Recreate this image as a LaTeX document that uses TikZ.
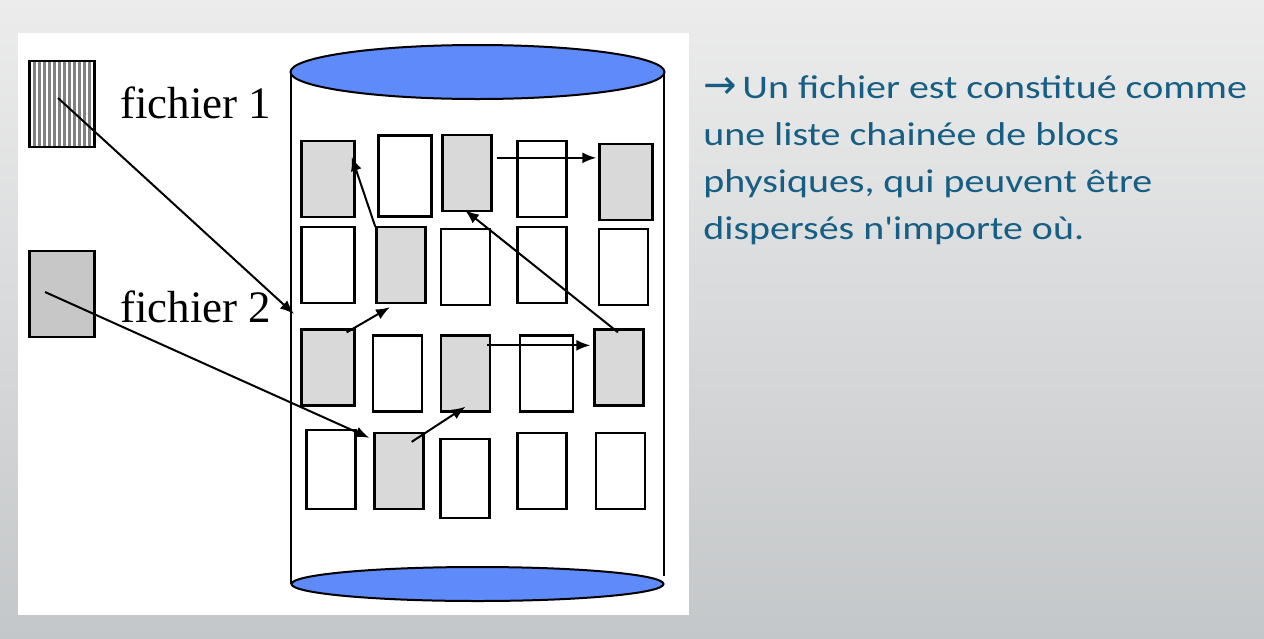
\documentclass[tikz,border=0pt]{standalone}
\usepackage{fontspec}
\setmainfont{Liberation Serif}
\newfontfamily\slidefont[FakeStretch=1.21]{Carlito}
\newfontfamily\symbfont{DejaVu Sans}
\usetikzlibrary{arrows.meta, positioning, calc}
\definecolor{slideblue}{RGB}{22,94,131}
\definecolor{diskblue}{RGB}{94,138,250}
\definecolor{blockgray}{RGB}{217,217,217}
\definecolor{bgtop}{RGB}{236,236,236}
\definecolor{bgbottom}{RGB}{196,199,201}

\begin{document}
\begin{tikzpicture}
[
x=0.5pt, y=-0.5pt,
blk/.style={draw=black, line width=1.15pt, fill=white,
            minimum width=24.5pt, minimum height=38pt, inner sep=0pt},
blkf/.style={blk, fill=blockgray},
fileicon/.style={draw=black, line width=1.15pt, minimum width=32.5pt,
                 minimum height=43pt, inner sep=0pt},
disk/.style={draw=black, line width=1pt, fill=diskblue},
link/.style={-{Latex[length=7pt,width=5.5pt]}, line width=1pt},
label/.style={anchor=base west, font=\fontsize{22.5}{27}\selectfont},
slide/.style={anchor=base west, inner sep=0pt, text=slideblue,
              font=\slidefont\fontsize{16.5}{23.5}\selectfont}
]
    \useasboundingbox (0,0) rectangle (1264,638);

    % slide background and white panel
    \shade[top color=bgtop, bottom color=bgbottom] (0,0) rectangle (1264,638);
    \fill[white] (18,33) rectangle (689,615);

    % disk
    \draw[line width=1pt] (291,72) -- (291,584);
    \draw[line width=1pt] (664,72) -- (664,576);
    \draw[disk] (477.5,584) ellipse [x radius=186, y radius=17];
    \draw[disk] (477.5,72) ellipse [x radius=187, y radius=27];

    % physical blocks
    \node[blkf, minimum width=26.5pt] (b11) at (328,179) {};
    \node[blk, minimum width=26.5pt, minimum height=40.5pt] (b12) at (405,176) {};
    \node[blkf] (b13) at (467,173) {};
    \node[blk] (b14) at (542,179) {};
    \node[blkf, minimum width=26.5pt] (b15) at (626,182) {};
    \node[blk, minimum width=26.5pt] (b21) at (328,265) {};
    \node[blkf] (b22) at (401,265) {};
    \node[blk] (b23) at (465.5,267) {};
    \node[blk] (b24) at (542,265) {};
    \node[blk] (b25) at (623.5,267) {};
    \node[blkf, minimum width=26.5pt] (b31) at (328,367.5) {};
    \node[blk] (b32) at (397.5,373.5) {};
    \node[blkf] (b33) at (465.5,373.5) {};
    \node[blk, minimum width=26.5pt] (b34) at (546.5,373.5) {};
    \node[blkf] (b35) at (619,367.5) {};
    \node[blk, minimum height=39.5pt] (b41) at (331,469.5) {};
    \node[blkf] (b42) at (399,471) {};
    \node[blk, minimum height=39.5pt] (b43) at (465,478.5) {};
    \node[blk] (b44) at (542,471) {};
    \node[blk] (b45) at (620.5,471) {};

    % files
    \node[fileicon, fill=white, path picture={
        \foreach \k in {1,...,12}
            \draw[gray, line width=1.2pt]
                ([xshift=\k*2.5pt]path picture bounding box.south west) --
                ([xshift=\k*2.5pt]path picture bounding box.north west);
        }] (f1) at (62,104) {};
    \node[fileicon, fill=black!22] (f2) at (62,294) {};
    \node[label] (lab1) at (113,118) {fichier 1};
    \node[label] (lab2) at (113,322) {fichier 2};

    % chaining of the blocks
    \coordinate (wall) at (294,314);
    \draw[link] ($(f1.center)+(-4,-6)$) -- (wall);
    \draw[link] ($(b31.north east)+(-9,4)$) -- ($(b22.south)+(-11,3)$);
    \draw[link] ($(b22.north west)+(0,1)$) -- ($(b11.north east)+(-4,17)$);

    \draw[link] ($(f2.center)+(-17,-2)$) -- ($(b42.north west)+(-4,6)$);
    \draw[link] ($(b42.north east)+(-13,10)$) -- ($(b33.south)+(0,-6)$);
    \draw[link] ($(b33.north east)+(-4,11)$) -- ($(b35.north west)+(-3,17)$);
    \draw[link] ($(b35.north)+(-1,4)$) -- ($(b13.south)+(-2,-2)$);
    \draw[link] ($(b13.north east)+(4,24)$) -- ($(b15.north west)+(-2,15)$);

    % text of the slide
    \node[slide] (txt1) at (703,98)
        {{\symbfont\fontsize{20}{23.5}\selectfont →}\,Un fichier est constitué comme};
    \node[slide] (txt2) at ($(txt1.base west)+(0,47)$) {une liste chainée de blocs};
    \node[slide] (txt3) at ($(txt2.base west)+(0,47)$) {physiques, qui peuvent être};
    \node[slide] (txt4) at ($(txt3.base west)+(0,47)$) {dispersés n'importe où.};
\end{tikzpicture}
\end{document}
